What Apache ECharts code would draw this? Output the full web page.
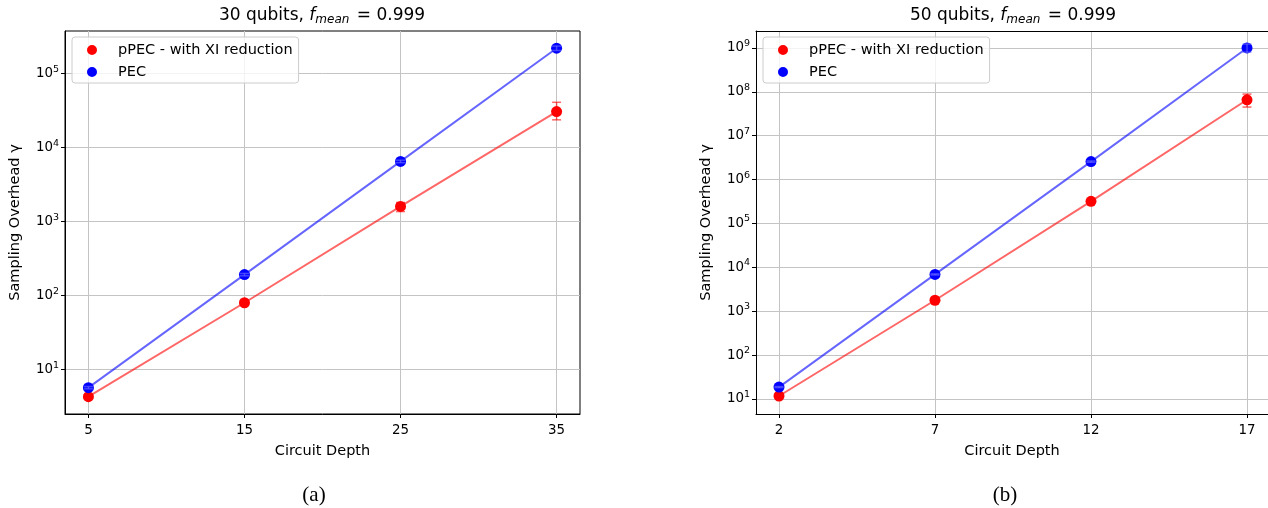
<!DOCTYPE html>
<html lang="en">
<head>
    <meta charset="UTF-8">
    <title>sampling overhead</title>
    <script src="https://cdn.jsdelivr.net/npm/echarts@6/dist/echarts.min.js"></script>
    <style>
        html, body { margin: 0; padding: 0; background: #fff; }
        #main { width: 1268px; height: 508px; }
    </style>
</head>
<body>
<div id="main"></div>
<script>
    // (a) 30 qubits
    var depthA = [5, 15, 25, 35];
    var pecA = [5.7, 192, 6500, 220000];
    var pecLoA = [5.5, 185, 6250, 205000];
    var pecHiA = [5.9, 199, 6750, 235000];
    var ppecA = [4.3, 80, 1600, 30600];
    var ppecLoA = [4.1, 76, 1365, 23700];
    var ppecHiA = [4.5, 84, 1810, 40900];

    // (b) 50 qubits
    var depthB = [2, 7, 12, 17];
    var pecB = [18.7, 6900, 2570000, 1.0e9];
    var pecLoB = [18.2, 6700, 2480000, 8.0e8];
    var pecHiB = [19.2, 7100, 2660000, 1.23e9];
    var ppecB = [11.7, 1780, 320000, 6.6e7];
    var ppecLoB = [11.2, 1700, 300000, 4.5e7];
    var ppecHiB = [12.2, 1860, 340000, 8.9e7];

    var tickA = [5, 15, 25, 35];
    var tickB = [2, 7, 12, 17];
    var yTickA = [10, 100, 1000, 10000, 100000];
    var yTickB = [10, 100, 1000, 10000, 100000, 1e6, 1e7, 1e8, 1e9];

    var FONT = 'DejaVu Sans';
    var RED_LINE = 'rgba(255,0,0,0.6)';
    var BLUE_LINE = 'rgba(0,0,255,0.6)';
    // dot on the left of a 26x10 box, so the label sits further right
    var DOT_ICON = 'path://M0,5 A5,5 0 1,0 10,5 A5,5 0 1,0 0,5 Z M25.9,5 L26,5 Z';

    var myChart = echarts.init(document.getElementById('main'));

    function pairs(xs, ys) {
        var out = [];
        for (var i = 0; i < xs.length; i++) out.push([xs[i], ys[i]]);
        return out;
    }

    function triples(xs, lo, hi) {
        var out = [];
        for (var i = 0; i < xs.length; i++) out.push([xs[i], lo[i], hi[i]]);
        return out;
    }

    // error bar with caps
    function errorBar(color) {
        return function (params, api) {
            var x = api.value(0);
            var top = api.coord([x, api.value(2)]);
            var bot = api.coord([x, api.value(1)]);
            var cap = 4.5;
            var st = {stroke: color, lineWidth: 1.5};
            return {
                type: 'group',
                children: [
                    {type: 'line', shape: {x1: top[0], y1: top[1], x2: bot[0], y2: bot[1]}, style: st},
                    {type: 'line', shape: {x1: top[0] - cap, y1: top[1], x2: top[0] + cap, y2: top[1]}, style: st},
                    {type: 'line', shape: {x1: bot[0] - cap, y1: bot[1], x2: bot[0] + cap, y2: bot[1]}, style: st}
                ]
            };
        };
    }

    function powLabel(v) {
        var n = Math.round(Math.log(v) / Math.LN10);
        if (Math.abs(Math.log(v) / Math.LN10 - n) > 1e-6) return '';
        return '{b|10}{s|' + n + '}';
    }

    function xAxis(idx, min, max, ticks) {
        return {
            gridIndex: idx,
            type: 'value',
            min: min,
            max: max,
            name: 'Circuit Depth',
            nameLocation: 'middle',
            nameGap: 30,
            nameTextStyle: {fontFamily: FONT, fontSize: 14.5, color: '#000'},
            axisLine: {show: true, onZero: false, lineStyle: {color: '#000', width: 1}},
            axisTick: {show: true, length: 4, customValues: ticks, lineStyle: {color: '#000'}},
            axisLabel: {customValues: ticks, margin: 10, fontFamily: FONT, fontSize: 13.4, color: '#000'},
            splitLine: {show: true, lineStyle: {color: '#c4c4c4', width: 1}}
        };
    }

    // frame line only (top edge of the right panel)
    function frameAxis(idx, min, max) {
        return {
            gridIndex: idx, type: 'value', position: 'top', min: min, max: max,
            axisLine: {show: true, onZero: false, lineStyle: {color: '#000', width: 1}},
            axisTick: {show: false}, axisLabel: {show: false}, splitLine: {show: false}
        };
    }

    function yAxis(idx, min, max, ticks) {
        return {
            gridIndex: idx,
            type: 'log',
            logBase: 10,
            min: min,
            max: max,
            name: 'Sampling Overhead \u03b3',
            nameLocation: 'middle',
            nameRotate: 90,
            nameGap: 42,
            nameTextStyle: {fontFamily: FONT, fontSize: 14.5, color: '#000'},
            axisLine: {show: true, lineStyle: {color: '#000', width: 1}},
            axisTick: {show: true, length: 4, customValues: ticks, lineStyle: {color: '#000'}},
            axisLabel: {
                margin: 6,
                customValues: ticks,
                formatter: powLabel,
                rich: {
                    b: {fontFamily: FONT, fontSize: 13.4, color: '#000'},
                    s: {fontFamily: FONT, fontSize: 9.5, color: '#000', padding: [0, 0, 9, 0]}
                }
            },
            splitLine: {show: true, lineStyle: {color: '#c4c4c4', width: 1}}
        };
    }

    function seriesFor(idx, xs, pec, pecLo, pecHi, ppec, ppecLo, ppecHi) {
        return [
            {type: 'line', name: 'pPEC line', xAxisIndex: idx, yAxisIndex: idx, data: pairs(xs, ppec),
                showSymbol: false, lineStyle: {color: RED_LINE, width: 2}, silent: true, z: 2},
            {type: 'line', name: 'PEC line', xAxisIndex: idx, yAxisIndex: idx, data: pairs(xs, pec),
                showSymbol: false, lineStyle: {color: BLUE_LINE, width: 2}, silent: true, z: 2},
            {type: 'scatter', name: 'pPEC - with XI reduction', xAxisIndex: idx, yAxisIndex: idx,
                data: pairs(xs, ppec), symbolSize: 11, itemStyle: {color: '#ff0000', opacity: 1}, z: 3},
            {type: 'scatter', name: 'PEC', xAxisIndex: idx, yAxisIndex: idx,
                data: pairs(xs, pec), symbolSize: 11, itemStyle: {color: '#0000ff', opacity: 1}, z: 3},
            {type: 'custom', name: 'pPEC err', xAxisIndex: idx, yAxisIndex: idx, data: triples(xs, ppecLo, ppecHi),
                renderItem: errorBar(RED_LINE), encode: {x: 0, y: [1, 2]}, silent: true, z: 4},
            {type: 'custom', name: 'PEC err', xAxisIndex: idx, yAxisIndex: idx, data: triples(xs, pecLo, pecHi),
                renderItem: errorBar('rgba(110,110,255,0.6)'), encode: {x: 0, y: [1, 2]}, silent: true, z: 4}
        ];
    }

    function legendFor(left) {
        return {
            left: left,
            top: 37,
            orient: 'vertical',
            data: [{name: 'pPEC - with XI reduction', icon: DOT_ICON}, {name: 'PEC', icon: DOT_ICON}],
            itemWidth: 26,
            itemHeight: 10,
            itemGap: 6,
            padding: [5, 6, 3, 15],
            borderColor: '#cccccc',
            borderWidth: 1,
            borderRadius: 3,
            backgroundColor: 'rgba(255,255,255,0.8)',
            textStyle: {fontFamily: FONT, fontSize: 14.5, color: '#000', lineHeight: 16}
        };
    }

    function titleText(x, qubits) {
        return {
            type: 'text',
            x: x,
            y: 16,
            style: {
                text: '{n|' + qubits + ' qubits, }{f|f}{m|mean}{n| = 0.999}',
                align: 'center',
                verticalAlign: 'middle',
                rich: {
                    n: {fontFamily: FONT, fontSize: 17, fill: '#000'},
                    f: {fontFamily: FONT, fontSize: 17, fontStyle: 'italic', fill: '#000'},
                    m: {fontFamily: FONT, fontSize: 12, fontStyle: 'italic', fill: '#000', padding: [7, 2, 0, 0]}
                }
            }
        };
    }

    var option = {
        animation: false,
        grid: [
            {left: 65, top: 31, width: 515, height: 383, show: true, borderColor: '#000', borderWidth: 1},
            {left: 756, top: 31, right: 0, height: 383, show: false}
        ],
        legend: [legendFor(72), legendFor(763)],
        xAxis: [xAxis(0, 3.5, 36.5, tickA), xAxis(1, 1.263, 17.673, tickB), frameAxis(1, 1.263, 17.673)],
        yAxis: [yAxis(0, Math.pow(10, 0.40), Math.pow(10, 5.575), yTickA),
            yAxis(1, Math.pow(10, 0.658), Math.pow(10, 9.387), yTickB)],
        series: seriesFor(0, depthA, pecA, pecLoA, pecHiA, ppecA, ppecLoA, ppecHiA)
            .concat(seriesFor(1, depthB, pecB, pecLoB, pecHiB, ppecB, ppecLoB, ppecHiB)),
        graphic: [
            titleText(322, 30),
            titleText(1013, 50),
            {type: 'text', x: 314, y: 495, style: {text: '(a)', align: 'center', verticalAlign: 'middle',
                fontFamily: 'Liberation Serif', fontSize: 21, fill: '#000'}},
            {type: 'text', x: 1005, y: 495, style: {text: '(b)', align: 'center', verticalAlign: 'middle',
                fontFamily: 'Liberation Serif', fontSize: 21, fill: '#000'}}
        ]
    };

    myChart.setOption(option);
</script>
</body>
</html>
